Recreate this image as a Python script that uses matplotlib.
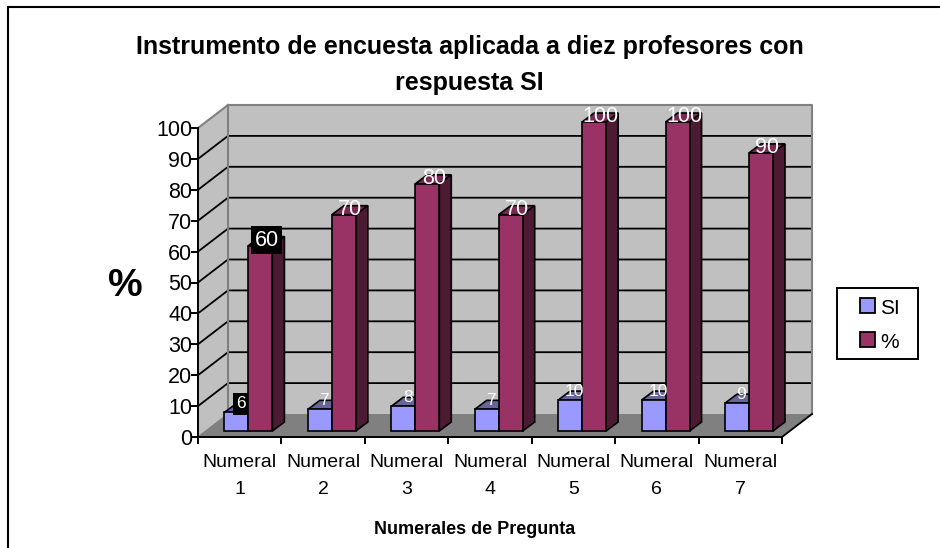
import matplotlib
matplotlib.use('Agg')
import matplotlib.pyplot as plt
from matplotlib.patches import Polygon, Rectangle

plt.rcParams['font.family'] = ['Liberation Sans', 'DejaVu Sans']

categories = ['Numeral\n1', 'Numeral\n2', 'Numeral\n3', 'Numeral\n4', 'Numeral\n5', 'Numeral\n6', 'Numeral\n7']
si_values = [6, 7, 8, 7, 10, 10, 9]
pct_values = [60, 70, 80, 70, 100, 100, 90]
y_ticks = list(range(0, 101, 10))
series_names = ['SI', '%']
series_colors = ['#9999ff', '#993366']

W, H = 940, 548
fig = plt.figure(figsize=(W / 100, H / 100), dpi=100)

# front plane of the fake 3d box, in pixels of the picture
left, right, bottom, top = 198, 782, 437, 128
ax = fig.add_axes([left / W, 1 - bottom / H, (right - left) / W, (bottom - top) / H])
ax.set_xlim(0, 7)
ax.set_ylim(0, 100)
ax.patch.set_visible(False)

# depth of the box and of the bars, in data units
px_x = 7 / (right - left)
px_y = 100 / (bottom - top)
box_dx, box_dy = 30 * px_x, 23 * px_y
plane_dx, plane_dy = 8.7 * px_x, 6 * px_y
bar_dx, bar_dy = 12 * px_x, 9 * px_y
bar_w = 24 * px_x


def poly(points, color, z, edge='none', lw=0):
    ax.add_patch(Polygon(points, closed=True, facecolor=color, edgecolor=edge, linewidth=lw,
                         zorder=z, clip_on=False, joinstyle='miter'))


# walls and floor
poly([(0, 0), (box_dx, box_dy), (box_dx, 100 + box_dy), (0, 100)], '#c0c0c0', 1)
poly([(box_dx, box_dy), (7 + box_dx, box_dy), (7 + box_dx, 100 + box_dy), (box_dx, 100 + box_dy)], '#c0c0c0', 1)
poly([(0, 0), (7, 0), (7 + box_dx, box_dy), (box_dx, box_dy)], '#808080', 1)

for v in y_ticks[1:-1]:
    ax.plot([0, box_dx, 7 + box_dx], [v, v + box_dy, v + box_dy], color='black', lw=1.3, zorder=2,
            clip_on=False, solid_joinstyle='miter')
ax.plot([0, box_dx], [100, 100 + box_dy], color='#808080', lw=1.5, zorder=2, clip_on=False)
ax.plot([box_dx, box_dx], [box_dy, 100 + box_dy], color='#808080', lw=1.5, zorder=2, clip_on=False)
ax.plot([box_dx, 7 + box_dx, 7 + box_dx], [100 + box_dy, 100 + box_dy, box_dy], color='#808080', lw=1.5,
        zorder=2, clip_on=False)
ax.plot([0, box_dx], [0, box_dy], color='#808080', lw=1, zorder=2, clip_on=False)
ax.plot([7, 7 + box_dx], [0, box_dy], color='black', lw=1.3, zorder=2, clip_on=False)

# bars
for i in range(len(categories)):
    for value, x0, face, dark, roof, z in [
        (si_values[i], i + 0.5 - bar_w, series_colors[0], '#666699', '#666699', 3 + i * 0.1),
        (pct_values[i], i + 0.5, series_colors[1], '#4d1a33', '#7a2952', 3.05 + i * 0.1),
    ]:
        x0 = x0 + plane_dx
        y0 = plane_dy
        y1 = y0 + value
        x1 = x0 + bar_w
        poly([(x0, y1), (x1, y1), (x1 + bar_dx, y1 + bar_dy), (x0 + bar_dx, y1 + bar_dy)], roof, z, 'black', 1.2)
        poly([(x1, y0), (x1 + bar_dx, y0 + bar_dy), (x1 + bar_dx, y1 + bar_dy), (x1, y1)], dark, z, 'black', 1.2)
        ax.add_patch(Rectangle((x0, y0), bar_w, value, facecolor=face, edgecolor='black', linewidth=1.2,
                               zorder=z + 0.01, clip_on=False))

# value labels on top of the bars
for i in range(len(categories)):
    bg_si = dict(facecolor='black', edgecolor='none', pad=2.5) if i == 0 else None
    bg_pct = dict(facecolor='black', edgecolor='none', pad=2.5) if i == 0 else None
    ax.text(i + 0.5 + plane_dx - bar_w / 2 + 4.5 * px_x, plane_dy + si_values[i] + 8.5 * px_y, str(si_values[i]),
            color='white', fontsize=12.5, ha='center', va='center', zorder=3.02 if i == 0 else 5, bbox=bg_si)
    ax.text(i + 0.5 + plane_dx + bar_w / 2 + 6.5 * px_x, plane_dy + pct_values[i] + 5.5 * px_y, str(pct_values[i]),
            color='white', fontsize=15.5, ha='center', va='center', zorder=5, bbox=bg_pct)

# axes
for s in ['top', 'right']:
    ax.spines[s].set_visible(False)
for s in ['left', 'bottom']:
    ax.spines[s].set_linewidth(1.4)
    ax.spines[s].set_zorder(4)
ax.set_yticks(y_ticks)
ax.set_xticks(range(8))
ax.set_xticklabels([])
ax.tick_params(axis='both', width=1.4, length=5, pad=-1)
ax.tick_params(axis='y', labelsize=15.5)
for i, lab in enumerate(categories):
    ax.text(i + 0.5, -5.4, lab, ha='center', va='top', fontsize=14, linespacing=1.8, clip_on=False)

fig.text(469.5 / W, 1 - 65 / H, 'Instrumento de encuesta aplicada a diez profesores con\nrespuesta SI', ha='center', va='center',
         fontsize=18, fontweight='bold', linespacing=1.6)
fig.text(125 / W, 1 - 286 / H, '%', ha='center', va='center', fontsize=28, fontweight='bold')
fig.text(475 / W, 1 - 530 / H, 'Numerales de Pregunta', ha='center', va='center', fontsize=13, fontweight='bold')


# legend, built by hand because its padding is wider than it is tall
def px_rect(x0, y0, x1, y1, face, lw):
    fig.add_artist(Rectangle((x0 / W, 1 - y1 / H), (x1 - x0) / W, (y1 - y0) / H, transform=fig.transFigure,
                             facecolor=face, edgecolor='black', linewidth=lw))


px_rect(837, 288, 918, 359, 'white', 1.4)
for name, color, y in zip(series_names, series_colors, [298, 332]):
    px_rect(860, y, 875, y + 15, color, 1.3)
    fig.text(880 / W, 1 - (y + 11) / H, name, ha='left', va='center', fontsize=15)

# outer chart frame, only left and top are in the picture
for xs, ys in [((8, 8), (7, 548)), ((8, 940), (7, 7))]:
    fig.add_artist(plt.Line2D([x / W for x in xs], [1 - y / H for y in ys], color='black', lw=1.5))

fig.savefig('out.png', dpi=100)
